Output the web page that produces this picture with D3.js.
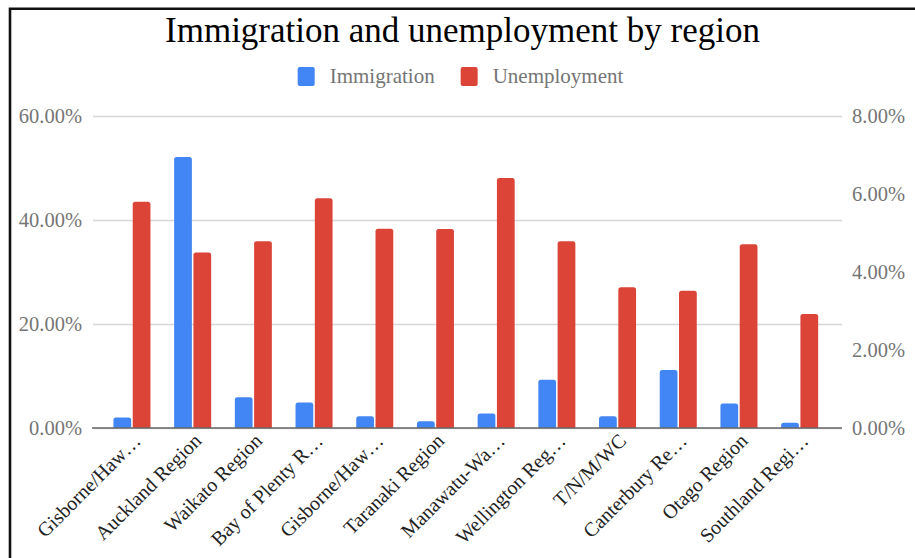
<!DOCTYPE html>
<html><head><meta charset="utf-8">
<script src="https://cdn.jsdelivr.net/npm/d3@7"></script>
<style>body{margin:0;background:#fff} svg{display:block}</style>
</head><body><svg id="c" width="915" height="558"></svg>
<script>
const categories = ["Gisborne/Haw…","Auckland Region","Waikato Region","Bay of Plenty R…","Gisborne/Haw…","Taranaki Region","Manawatu-Wa…","Wellington Reg…","T/N/M/WC","Canterbury Re…","Otago Region","Southland Regi…"];
const immigration = [0.020, 0.521, 0.059, 0.049, 0.0225, 0.013, 0.028, 0.093, 0.0225, 0.1115, 0.047, 0.010];
const unemployment = [0.0580, 0.0450, 0.0479, 0.0589, 0.0511, 0.0510, 0.0641, 0.0479, 0.0361, 0.0352, 0.0471, 0.0292];
const leftTicks = [0, 0.2, 0.4, 0.6];
const rightTicks = [0, 0.02, 0.04, 0.06, 0.08];
const seriesNames = ["Immigration", "Unemployment"];
const colors = ["#4285F4", "#DB4437"];
const title = "Immigration and unemployment by region";

const svg = d3.select("#c");
const serif = "'Liberation Serif','Times New Roman',serif";
const gridL = 93, gridR = 842, plotTop = 116, base = 428;

const x = d3.scaleBand().domain(d3.range(categories.length)).range([101.6, 830]).paddingInner(0.39).paddingOuter(0.195);
const xs = d3.scaleBand().domain(seriesNames).range([0, x.bandwidth()]).paddingInner(0.08);
const yL = d3.scaleLinear().domain([0, 0.6]).range([base, plotTop]);
const yR = d3.scaleLinear().domain([0, 0.08]).range([base, plotTop]);
const fmt = d3.format(".2%");

// border
svg.append("path").attr("d", "M10,558V8.8H915").attr("fill", "none").attr("stroke", "#111").attr("stroke-width", 2.6);

// title
svg.append("text").attr("x", 462.5).attr("y", 41.5).attr("text-anchor", "middle")
  .style("font-family", serif).style("font-size", "35px").attr("fill", "#000").text(title);

// legend
const lg = svg.append("g");
let lx = 0;
seriesNames.forEach((n, i) => {
  lg.append("rect").attr("x", lx).attr("y", 67).attr("width", 17).attr("height", 19).attr("rx", 2).attr("fill", colors[i]);
  const t = lg.append("text").attr("x", lx + 32).attr("y", 83).style("font-family", serif).style("font-size", "21px").attr("fill", "#757575").text(n);
  lx += 32 + t.node().getComputedTextLength() + 26;
});
const lw = lx - 26;
lg.attr("transform", `translate(${460.5 - lw / 2},0)`);

// gridlines
const grid = svg.append("g").attr("transform", `translate(${gridL},0)`)
  .call(d3.axisLeft(yL).tickValues(leftTicks).tickSize(-(gridR - gridL)).tickFormat(""));
grid.select(".domain").remove();
grid.selectAll("line").attr("stroke", "#d6d6d6").attr("stroke-width", 1.5);

// left axis labels
const la = svg.append("g").attr("transform", "translate(82,0)")
  .call(d3.axisLeft(yL).tickValues(leftTicks).tickSize(0).tickPadding(0).tickFormat(fmt));
la.select(".domain").remove();
la.selectAll("text").style("font-family", serif).style("font-size", "20.5px").attr("fill", "#757575");

// right axis labels
const ra = svg.append("g").attr("transform", "translate(852,0)")
  .call(d3.axisRight(yR).tickValues(rightTicks).tickSize(0).tickPadding(0).tickFormat(fmt));
ra.select(".domain").remove();
ra.selectAll("text").style("font-family", serif).style("font-size", "20.5px").attr("fill", "#757575");

// bars
function barPath(x0, y0, w, h, r) {
  r = Math.min(r, h / 2, w / 2);
  return `M${x0},${y0 + h}V${y0 + r}Q${x0},${y0} ${x0 + r},${y0}H${x0 + w - r}Q${x0 + w},${y0} ${x0 + w},${y0 + r}V${y0 + h}Z`;
}
const series = [immigration, unemployment];
const scales = [yL, yR];
series.forEach((vals, si) => {
  svg.append("g").selectAll("path").data(vals).join("path")
    .attr("d", (v, i) => {
      const x0 = x(i) + xs(seriesNames[si]);
      const y0 = scales[si](v);
      return barPath(x0, y0, xs.bandwidth(), base - y0, 2.5);
    })
    .attr("fill", colors[si]);
});

// baseline
svg.append("line").attr("x1", gridL - 1).attr("x2", gridR).attr("y1", base).attr("y2", base)
  .attr("stroke", "#666").attr("stroke-width", 1.6);

// category labels
svg.append("g").selectAll("text").data(categories).join("text")
  .attr("transform", (d, i) => `translate(${x(i) + x.bandwidth() / 2 + 10},442) rotate(-45)`)
  .attr("text-anchor", "end")
  .style("font-family", serif).style("font-size", "20px").attr("fill", "#222")
  .text(d => d);
</script>
</body></html>
